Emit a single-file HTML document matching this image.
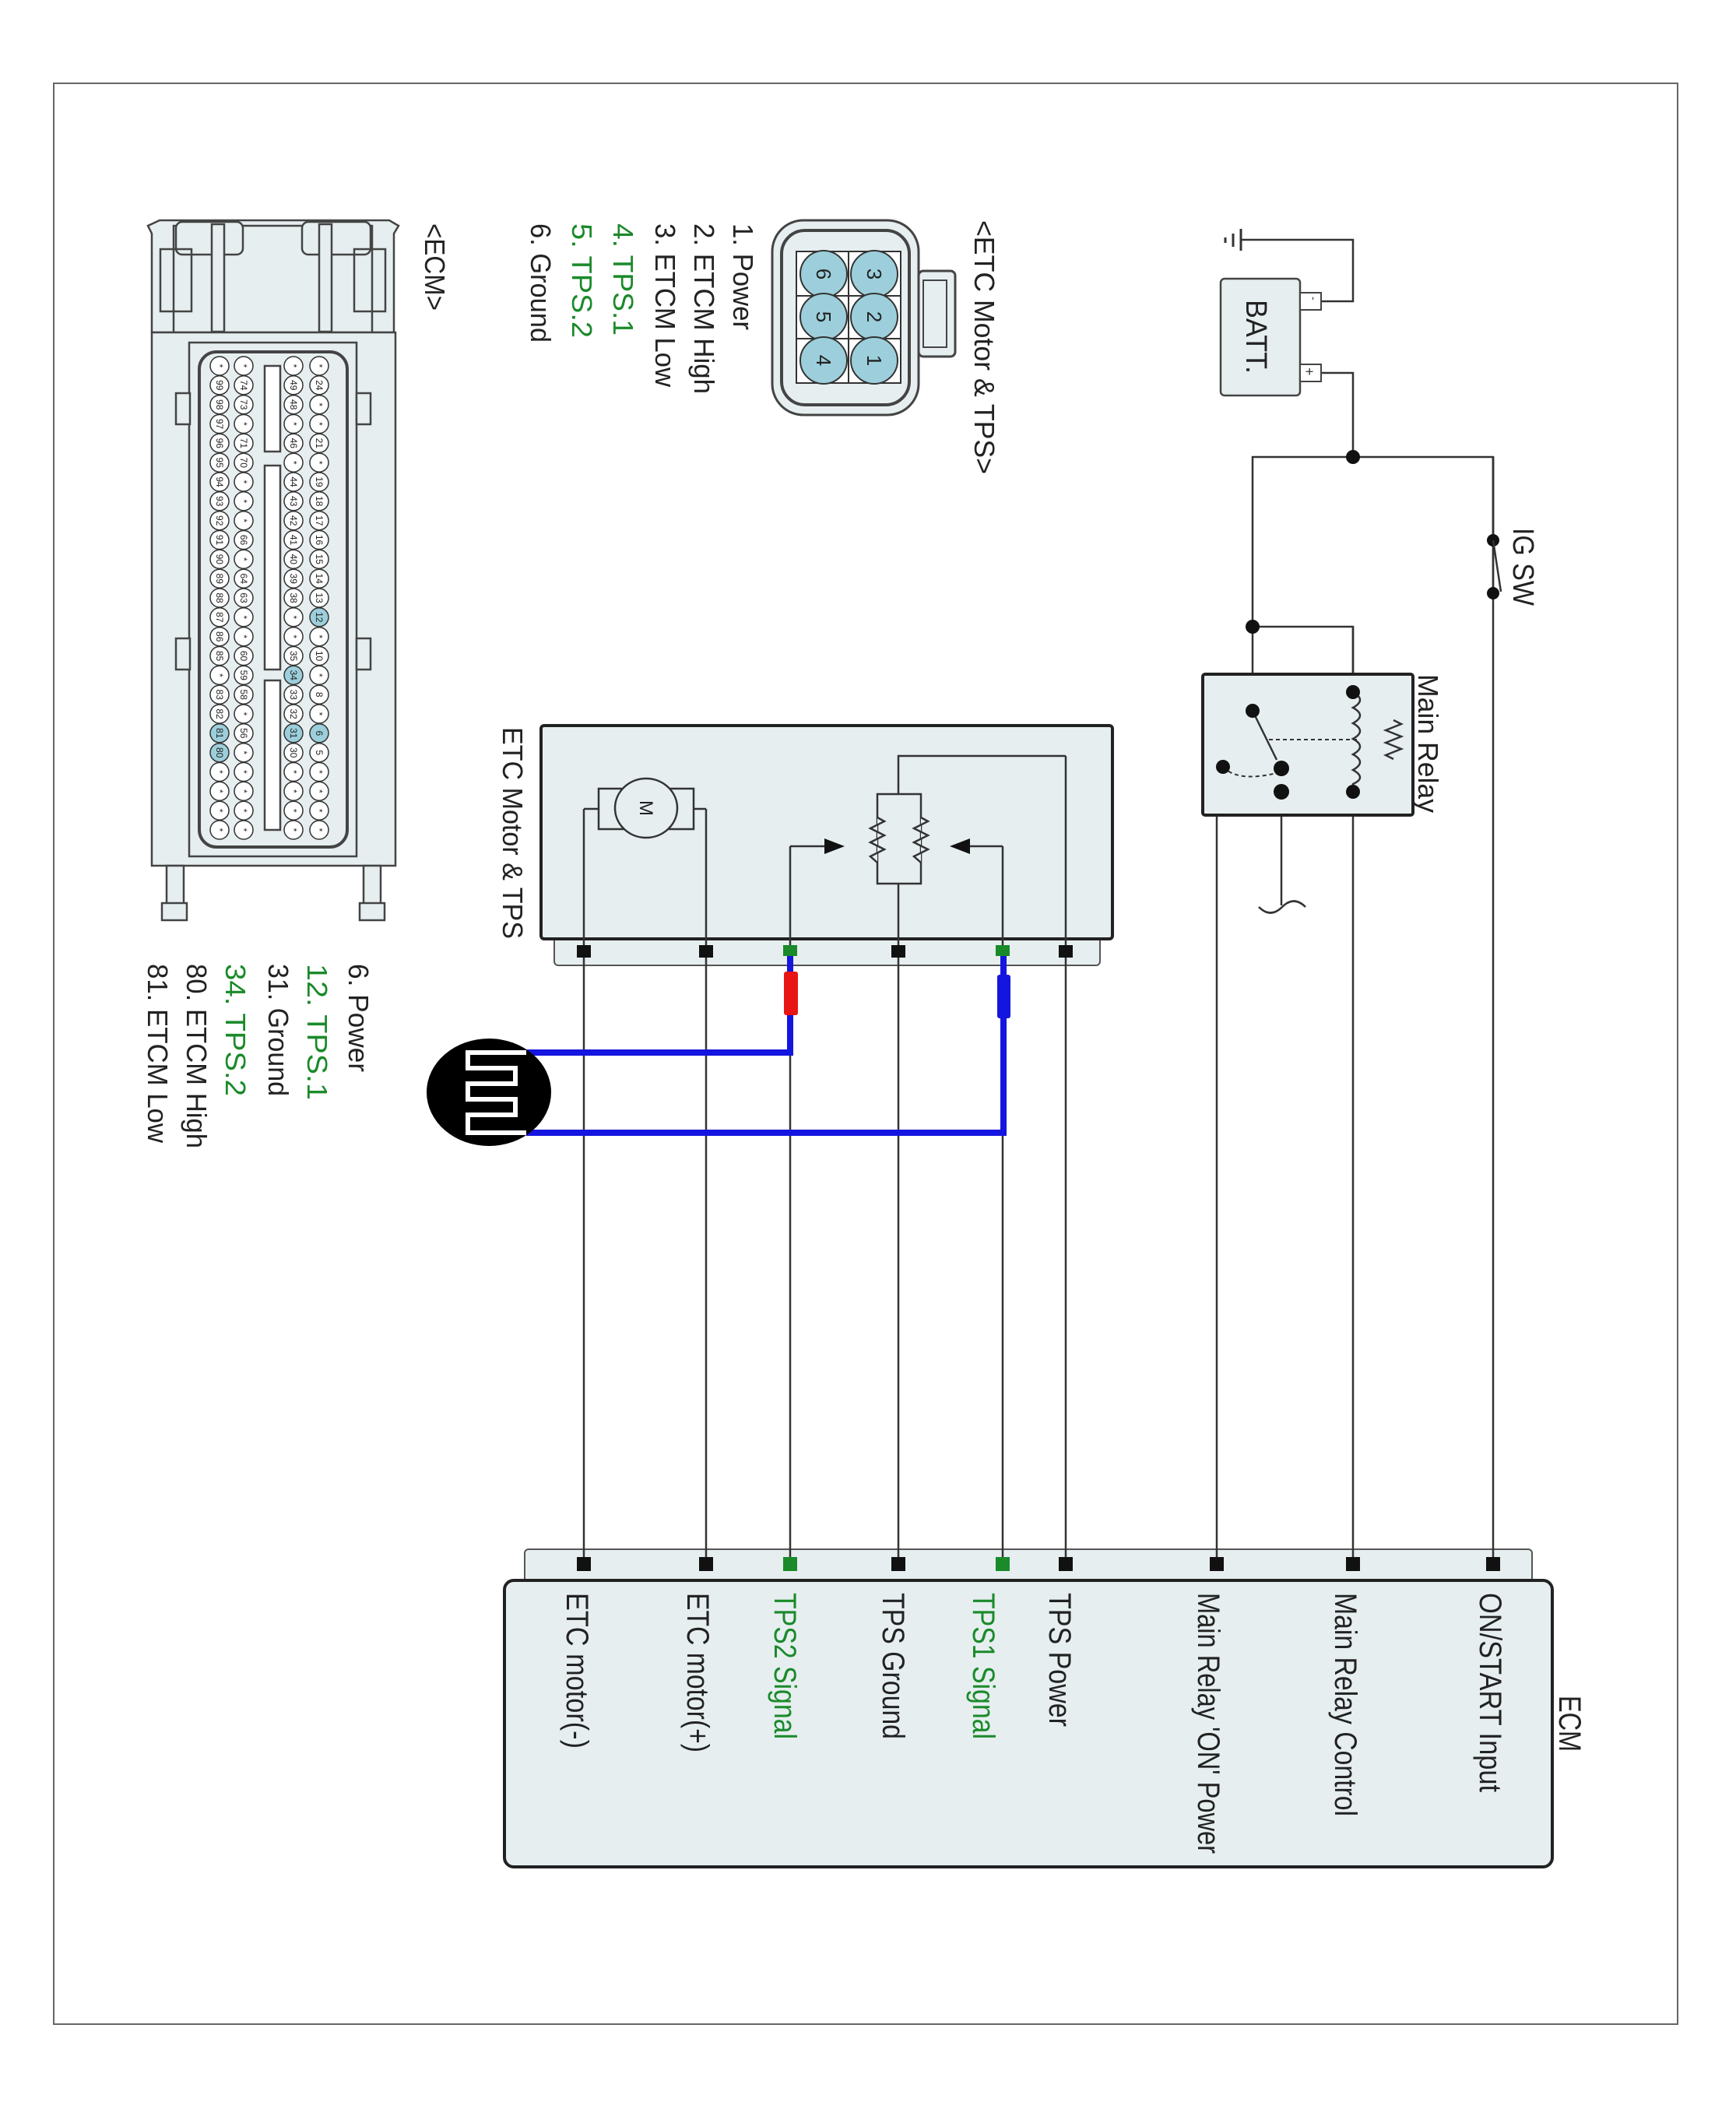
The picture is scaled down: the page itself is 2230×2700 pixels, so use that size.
<!DOCTYPE html>
<html><head><meta charset="utf-8"><style>
html,body{margin:0;padding:0;background:#fff}
svg{display:block}
text{font-family:"Liberation Sans",sans-serif}
</style></head><body>
<svg width="2230" height="2700" viewBox="0 0 2230 2700" xmlns="http://www.w3.org/2000/svg">
<rect x="69" y="107" width="2086" height="2493" fill="none" stroke="#666" stroke-width="2"/>

<rect x="674" y="1990" width="1294" height="44" rx="5" fill="#e6eef0" stroke="#555" stroke-width="2"/>
<rect x="648" y="2030" width="1346" height="368" rx="12" fill="#e6eef0" stroke="#222" stroke-width="4"/>

<rect x="712" y="1200" width="701" height="40" rx="5" fill="#e6eef0" stroke="#555" stroke-width="2"/>
<rect x="695" y="932" width="734" height="274" rx="4" fill="#e6eef0" stroke="#222" stroke-width="4"/>

<g stroke="#333" stroke-width="2.5" fill="none">
<line x1="750" y1="1039" x2="750" y2="2009"/>
<line x1="907" y1="1039" x2="907" y2="2009"/>
<line x1="1015" y1="1087" x2="1015" y2="2009"/>
<line x1="1154" y1="1135" x2="1154" y2="2009"/>
<line x1="1288" y1="1087" x2="1288" y2="2009"/>
<line x1="1369" y1="971" x2="1369" y2="2009"/>
<line x1="1563" y1="1017" x2="1563" y2="2009"/>
<line x1="1738" y1="805" x2="1738" y2="2009"/>
<line x1="1918" y1="587" x2="1918" y2="2009"/>
<polyline points="750,1039 769,1039"/>
<polyline points="907,1039 891,1039"/>
<polyline points="1154,1020 1154,971 1369,971"/>
<line x1="1015" y1="1087" x2="1060" y2="1087"/>
<line x1="1288" y1="1087" x2="1244" y2="1087"/>
<polyline points="1697,387 1738,387 1738,308 1594,308"/>
<polyline points="1697,479 1738,479 1738,587"/>
<polyline points="1609,913 1609,587 1918,587 1918,762"/>
<line x1="1918" y1="694" x2="1918" y2="587"/>
<polyline points="1609,805 1738,805 1738,889"/>
<polyline points="1738,889 1790,889 1790,925"/>
<polyline points="1790,975 1790,1017 1738,1017"/>
<polyline points="1563,1017 1646,1017"/>
<line x1="1646" y1="1017" x2="1646" y2="1163"/>
</g>
<g stroke="#333" stroke-width="3">
<line x1="1594" y1="294" x2="1594" y2="322"/>
<line x1="1584" y1="300" x2="1584" y2="317"/>
<line x1="1574" y1="305" x2="1574" y2="312"/>
</g>
<rect x="1568" y="358" width="102" height="150" rx="5" fill="#e6eef0" stroke="#444" stroke-width="2.5"/>
<rect x="1670" y="376" width="27" height="22" fill="#fff" stroke="#444" stroke-width="2"/>
<rect x="1670" y="468" width="27" height="22" fill="#fff" stroke="#444" stroke-width="2"/>
<text transform="translate(1683,381) rotate(90)" font-size="14" fill="#333">-</text>
<text transform="translate(1676,472) rotate(90)" font-size="18" fill="#333">+</text>
<text transform="translate(1601,385) rotate(90)" font-size="38" fill="#222" textLength="95" lengthAdjust="spacingAndGlyphs">BATT.</text>

<circle cx="1918" cy="694" r="8" fill="#111"/>
<circle cx="1918" cy="762" r="8" fill="#111"/>
<line x1="1918" y1="694" x2="1928" y2="760" stroke="#333" stroke-width="2.5"/>
<text transform="translate(1944,678) rotate(90)" font-size="38" fill="#222" textLength="100" lengthAdjust="spacingAndGlyphs">IG SW</text>

<rect x="1545" y="866" width="270" height="181" rx="3" fill="#e6eef0" stroke="#222" stroke-width="4"/>
<g stroke="#333" stroke-width="2.5" fill="none">
<line x1="1609" y1="913" x2="1640" y2="976"/>
<path d="M1738,889 q18,10 0,20 q18,10 0,20 q18,10 0,20 q18,10 0,20 q18,10 0,20 q18,10 0,18 V1017"/>
<polyline points="1790,925 1800,930 1780,938 1800,946 1780,954 1800,962 1780,970 1790,975"/>
<line x1="1630" y1="950" x2="1745" y2="950" stroke-dasharray="5,4" stroke-width="2"/>
<path d="M1571,985 Q1590,1005 1640,993" stroke-dasharray="5,4" stroke-width="2"/>
<path d="M1617,1165 q15,15 30,0 q15,-15 30,0"/>
</g>
<g fill="#111">
<circle cx="1609" cy="913" r="9"/><circle cx="1646" cy="987" r="10"/><circle cx="1646" cy="1017" r="10"/>
<circle cx="1571" cy="985" r="9"/><circle cx="1738" cy="889" r="9"/><circle cx="1738" cy="1017" r="9"/>
<circle cx="1738" cy="587" r="9"/><circle cx="1609" cy="805" r="9"/>
</g>
<text transform="translate(1822,866) rotate(90)" font-size="36" fill="#222" textLength="178" lengthAdjust="spacingAndGlyphs">Main Relay</text>

<rect x="769" y="1013" width="122" height="52" fill="none" stroke="#333" stroke-width="2.5"/>
<ellipse cx="830" cy="1038" rx="40" ry="38" fill="#e6eef0" stroke="#333" stroke-width="2.5"/>
<text transform="translate(822,1038) rotate(90)" font-size="24" text-anchor="middle" fill="#222">M</text>
<rect x="1127" y="1020" width="56" height="115" fill="none" stroke="#333" stroke-width="2.5"/>
<g stroke="#333" stroke-width="2.5" fill="#e6eef0">
<polyline points="1127,1050 1136,1055 1118,1064 1136,1073 1118,1082 1136,1091 1118,1100 1127,1108"/>
<polyline points="1183,1050 1192,1055 1174,1064 1192,1073 1174,1082 1192,1091 1174,1100 1183,1108"/>
</g>
<polygon points="1059,1077 1059,1097 1085,1087" fill="#111"/>
<polygon points="1246,1077 1246,1097 1220,1087" fill="#111"/>
<text transform="translate(646,934) rotate(90)" font-size="36" fill="#222" textLength="272" lengthAdjust="spacingAndGlyphs">ETC Motor &amp; TPS</text>

<g fill="#111">
<rect x="741" y="1214" width="18" height="16"/><rect x="898" y="1214" width="18" height="16"/>
<rect x="1145" y="1214" width="18" height="16"/><rect x="1360" y="1214" width="18" height="16"/>
<rect x="741" y="2000" width="18" height="18"/><rect x="898" y="2000" width="18" height="18"/>
<rect x="1145" y="2000" width="18" height="18"/><rect x="1360" y="2000" width="18" height="18"/>
<rect x="1554" y="2000" width="18" height="18"/><rect x="1729" y="2000" width="18" height="18"/>
<rect x="1909" y="2000" width="18" height="18"/>
</g>
<g fill="#1a8a2a">
<rect x="1006" y="1214" width="18" height="14"/><rect x="1279" y="1214" width="18" height="14"/>
<rect x="1006" y="2000" width="18" height="18"/><rect x="1279" y="2000" width="18" height="18"/>
</g>

<g stroke="#1515e0" stroke-width="8" fill="none">
<polyline points="1015,1228 1015,1352 676,1352"/>
<polyline points="1289,1228 1289,1455 676,1455"/>
</g>
<rect x="1007" y="1248" width="18" height="56" rx="3" fill="#e81515"/>
<rect x="1281" y="1252" width="17" height="56" rx="3" fill="#1515e0"/>
<ellipse cx="628" cy="1403" rx="80" ry="69" fill="#000"/>
<path d="M676,1352 H601 V1372 H662 V1392 H601 V1412 H662 V1432 H601 V1455 H676" stroke="#fff" stroke-width="6" fill="none"/>

<g font-size="40" fill="#222">
<text transform="translate(1901,2046) rotate(90)" textLength="256" lengthAdjust="spacingAndGlyphs">ON/START Input</text>
<text transform="translate(1715,2046) rotate(90)" textLength="287" lengthAdjust="spacingAndGlyphs">Main Relay Control</text>
<text transform="translate(1539,2046) rotate(90)" textLength="335" lengthAdjust="spacingAndGlyphs">Main Relay 'ON' Power</text>
<text transform="translate(1348,2046) rotate(90)" textLength="172" lengthAdjust="spacingAndGlyphs">TPS Power</text>
<text transform="translate(1250,2046) rotate(90)" textLength="188" lengthAdjust="spacingAndGlyphs" fill="#1a8a2a">TPS1 Signal</text>
<text transform="translate(1134,2046) rotate(90)" textLength="188" lengthAdjust="spacingAndGlyphs">TPS Ground</text>
<text transform="translate(995,2046) rotate(90)" textLength="188" lengthAdjust="spacingAndGlyphs" fill="#1a8a2a">TPS2 Signal</text>
<text transform="translate(883,2046) rotate(90)" textLength="205" lengthAdjust="spacingAndGlyphs">ETC motor(+)</text>
<text transform="translate(728,2046) rotate(90)" textLength="200" lengthAdjust="spacingAndGlyphs">ETC motor(-)</text>
<text transform="translate(2003,2178) rotate(90)" textLength="72" lengthAdjust="spacingAndGlyphs">ECM</text>
</g>

<g font-size="36" fill="#222">
<text transform="translate(1252,283) rotate(90)" textLength="326" lengthAdjust="spacingAndGlyphs">&lt;ETC Motor &amp; TPS&gt;</text>
<text transform="translate(942,287) rotate(90)" textLength="137" lengthAdjust="spacingAndGlyphs">1. Power</text>
<text transform="translate(892,287) rotate(90)" textLength="219" lengthAdjust="spacingAndGlyphs">2. ETCM High</text>
<text transform="translate(842,287) rotate(90)" textLength="210" lengthAdjust="spacingAndGlyphs">3. ETCM Low</text>
<text transform="translate(788,287) rotate(90)" textLength="144" lengthAdjust="spacingAndGlyphs" fill="#1a8a2a">4. TPS.1</text>
<text transform="translate(735,287) rotate(90)" textLength="147" lengthAdjust="spacingAndGlyphs" fill="#1a8a2a">5. TPS.2</text>
<text transform="translate(682,287) rotate(90)" textLength="153" lengthAdjust="spacingAndGlyphs">6. Ground</text>
<text transform="translate(546,287) rotate(90)" textLength="112" lengthAdjust="spacingAndGlyphs">&lt;ECM&gt;</text>
<text transform="translate(448,1238) rotate(90)" textLength="139" lengthAdjust="spacingAndGlyphs">6. Power</text>
<text transform="translate(395,1238) rotate(90)" textLength="175" lengthAdjust="spacingAndGlyphs" fill="#1a8a2a">12. TPS.1</text>
<text transform="translate(345,1238) rotate(90)" textLength="170" lengthAdjust="spacingAndGlyphs">31. Ground</text>
<text transform="translate(290,1238) rotate(90)" textLength="170" lengthAdjust="spacingAndGlyphs" fill="#1a8a2a">34. TPS.2</text>
<text transform="translate(240,1238) rotate(90)" textLength="237" lengthAdjust="spacingAndGlyphs">80. ETCM High</text>
<text transform="translate(190,1238) rotate(90)" textLength="230" lengthAdjust="spacingAndGlyphs">81. ETCM Low</text>
</g>

<rect x="1180" y="348" width="47" height="110" rx="6" fill="#e6eef0" stroke="#444" stroke-width="3"/>
<rect x="1186" y="360" width="30" height="86" fill="#e6eef0" stroke="#444" stroke-width="2"/>
<rect x="992" y="283" width="188" height="250" rx="40" fill="#e6eef0" stroke="#444" stroke-width="3"/>
<rect x="1004" y="296" width="164" height="224" rx="30" fill="#e6eef0" stroke="#444" stroke-width="4"/>
<rect x="1023" y="323" width="134" height="169" fill="#fff" stroke="#333" stroke-width="2"/>
<g stroke="#333" stroke-width="2"><line x1="1090" y1="323" x2="1090" y2="492"/><line x1="1023" y1="380" x2="1157" y2="380"/><line x1="1023" y1="435" x2="1157" y2="435"/></g>
<g fill="#9ccfdb" stroke="#333" stroke-width="2">
<circle cx="1123" cy="352" r="30"/><circle cx="1123" cy="407" r="30"/><circle cx="1123" cy="463" r="30"/>
<circle cx="1058" cy="352" r="30"/><circle cx="1058" cy="407" r="30"/><circle cx="1058" cy="463" r="30"/>
</g>
<g font-size="26" fill="#222" text-anchor="middle">
<text transform="translate(1114,352) rotate(90)">3</text><text transform="translate(1114,407) rotate(90)">2</text><text transform="translate(1114,463) rotate(90)">1</text>
<text transform="translate(1049,352) rotate(90)">6</text><text transform="translate(1049,407) rotate(90)">5</text><text transform="translate(1049,463) rotate(90)">4</text>
</g>

<g stroke="#444" stroke-width="2.5" fill="#e6eef0">
<path d="M195,427 V300 L190,290 L205,283 H500 L512,290 L506,300 V427 Z"/>
<rect x="223" y="290" width="255" height="137" fill="#e6eef0"/>
<rect x="226" y="285" width="86" height="42" rx="8"/>
<rect x="388" y="285" width="88" height="42" rx="8"/>
<rect x="206" y="320" width="40" height="80" fill="none"/>
<rect x="455" y="320" width="40" height="80" fill="none"/>
<rect x="272" y="288" width="16" height="138"/>
<rect x="410" y="288" width="16" height="138"/>
<rect x="195" y="427" width="313" height="685"/>
<rect x="243" y="440" width="215" height="660"/>
<rect x="256" y="452" width="190" height="636" rx="22" stroke-width="4"/>
<rect x="214" y="1112" width="22" height="60"/>
<rect x="467" y="1112" width="22" height="60"/>
<rect x="208" y="1160" width="32" height="22"/>
<rect x="462" y="1160" width="32" height="22"/>
<rect x="226" y="505" width="18" height="40"/>
<rect x="458" y="505" width="18" height="40"/>
<rect x="226" y="820" width="18" height="40"/>
<rect x="458" y="820" width="18" height="40"/>
<rect x="340" y="470" width="20" height="110" fill="#fff"/>
<rect x="340" y="598" width="20" height="262" fill="#fff"/>
<rect x="340" y="874" width="20" height="192" fill="#fff"/>
</g>
<g font-size="12" fill="#222" text-anchor="middle" stroke-width="1.5">
<g transform="translate(410,0)">
<g transform="translate(0,470) rotate(90)"><circle r="12" fill="#fff" stroke="#333"/><text y="4">*</text></g>
<g transform="translate(0,494.8) rotate(90)"><circle r="12" fill="#fff" stroke="#333"/><text y="4">24</text></g>
<g transform="translate(0,519.7) rotate(90)"><circle r="12" fill="#fff" stroke="#333"/><text y="4">*</text></g>
<g transform="translate(0,544.5) rotate(90)"><circle r="12" fill="#fff" stroke="#333"/><text y="4">*</text></g>
<g transform="translate(0,569.3) rotate(90)"><circle r="12" fill="#fff" stroke="#333"/><text y="4">21</text></g>
<g transform="translate(0,594.2) rotate(90)"><circle r="12" fill="#fff" stroke="#333"/><text y="4">*</text></g>
<g transform="translate(0,619) rotate(90)"><circle r="12" fill="#fff" stroke="#333"/><text y="4">19</text></g>
<g transform="translate(0,643.8) rotate(90)"><circle r="12" fill="#fff" stroke="#333"/><text y="4">18</text></g>
<g transform="translate(0,668.7) rotate(90)"><circle r="12" fill="#fff" stroke="#333"/><text y="4">17</text></g>
<g transform="translate(0,693.5) rotate(90)"><circle r="12" fill="#fff" stroke="#333"/><text y="4">16</text></g>
<g transform="translate(0,718.3) rotate(90)"><circle r="12" fill="#fff" stroke="#333"/><text y="4">15</text></g>
<g transform="translate(0,743.2) rotate(90)"><circle r="12" fill="#fff" stroke="#333"/><text y="4">14</text></g>
<g transform="translate(0,768) rotate(90)"><circle r="12" fill="#fff" stroke="#333"/><text y="4">13</text></g>
<g transform="translate(0,792.8) rotate(90)"><circle r="12" fill="#9ccfdb" stroke="#333"/><text y="4">12</text></g>
<g transform="translate(0,817.7) rotate(90)"><circle r="12" fill="#fff" stroke="#333"/><text y="4">*</text></g>
<g transform="translate(0,842.5) rotate(90)"><circle r="12" fill="#fff" stroke="#333"/><text y="4">10</text></g>
<g transform="translate(0,867.3) rotate(90)"><circle r="12" fill="#fff" stroke="#333"/><text y="4">*</text></g>
<g transform="translate(0,892.2) rotate(90)"><circle r="12" fill="#fff" stroke="#333"/><text y="4">8</text></g>
<g transform="translate(0,917) rotate(90)"><circle r="12" fill="#fff" stroke="#333"/><text y="4">*</text></g>
<g transform="translate(0,941.8) rotate(90)"><circle r="12" fill="#9ccfdb" stroke="#333"/><text y="4">6</text></g>
<g transform="translate(0,966.7) rotate(90)"><circle r="12" fill="#fff" stroke="#333"/><text y="4">5</text></g>
<g transform="translate(0,991.5) rotate(90)"><circle r="12" fill="#fff" stroke="#333"/><text y="4">*</text></g>
<g transform="translate(0,1016.3) rotate(90)"><circle r="12" fill="#fff" stroke="#333"/><text y="4">*</text></g>
<g transform="translate(0,1041.2) rotate(90)"><circle r="12" fill="#fff" stroke="#333"/><text y="4">*</text></g>
<g transform="translate(0,1066) rotate(90)"><circle r="12" fill="#fff" stroke="#333"/><text y="4">*</text></g>
</g>
<g transform="translate(377,0)">
<g transform="translate(0,470) rotate(90)"><circle r="12" fill="#fff" stroke="#333"/><text y="4">*</text></g>
<g transform="translate(0,494.8) rotate(90)"><circle r="12" fill="#fff" stroke="#333"/><text y="4">49</text></g>
<g transform="translate(0,519.7) rotate(90)"><circle r="12" fill="#fff" stroke="#333"/><text y="4">48</text></g>
<g transform="translate(0,544.5) rotate(90)"><circle r="12" fill="#fff" stroke="#333"/><text y="4">*</text></g>
<g transform="translate(0,569.3) rotate(90)"><circle r="12" fill="#fff" stroke="#333"/><text y="4">46</text></g>
<g transform="translate(0,594.2) rotate(90)"><circle r="12" fill="#fff" stroke="#333"/><text y="4">*</text></g>
<g transform="translate(0,619) rotate(90)"><circle r="12" fill="#fff" stroke="#333"/><text y="4">44</text></g>
<g transform="translate(0,643.8) rotate(90)"><circle r="12" fill="#fff" stroke="#333"/><text y="4">43</text></g>
<g transform="translate(0,668.7) rotate(90)"><circle r="12" fill="#fff" stroke="#333"/><text y="4">42</text></g>
<g transform="translate(0,693.5) rotate(90)"><circle r="12" fill="#fff" stroke="#333"/><text y="4">41</text></g>
<g transform="translate(0,718.3) rotate(90)"><circle r="12" fill="#fff" stroke="#333"/><text y="4">40</text></g>
<g transform="translate(0,743.2) rotate(90)"><circle r="12" fill="#fff" stroke="#333"/><text y="4">39</text></g>
<g transform="translate(0,768) rotate(90)"><circle r="12" fill="#fff" stroke="#333"/><text y="4">38</text></g>
<g transform="translate(0,792.8) rotate(90)"><circle r="12" fill="#fff" stroke="#333"/><text y="4">*</text></g>
<g transform="translate(0,817.7) rotate(90)"><circle r="12" fill="#fff" stroke="#333"/><text y="4">*</text></g>
<g transform="translate(0,842.5) rotate(90)"><circle r="12" fill="#fff" stroke="#333"/><text y="4">35</text></g>
<g transform="translate(0,867.3) rotate(90)"><circle r="12" fill="#9ccfdb" stroke="#333"/><text y="4">34</text></g>
<g transform="translate(0,892.2) rotate(90)"><circle r="12" fill="#fff" stroke="#333"/><text y="4">33</text></g>
<g transform="translate(0,917) rotate(90)"><circle r="12" fill="#fff" stroke="#333"/><text y="4">32</text></g>
<g transform="translate(0,941.8) rotate(90)"><circle r="12" fill="#9ccfdb" stroke="#333"/><text y="4">31</text></g>
<g transform="translate(0,966.7) rotate(90)"><circle r="12" fill="#fff" stroke="#333"/><text y="4">30</text></g>
<g transform="translate(0,991.5) rotate(90)"><circle r="12" fill="#fff" stroke="#333"/><text y="4">*</text></g>
<g transform="translate(0,1016.3) rotate(90)"><circle r="12" fill="#fff" stroke="#333"/><text y="4">*</text></g>
<g transform="translate(0,1041.2) rotate(90)"><circle r="12" fill="#fff" stroke="#333"/><text y="4">*</text></g>
<g transform="translate(0,1066) rotate(90)"><circle r="12" fill="#fff" stroke="#333"/><text y="4">*</text></g>
</g>
<g transform="translate(313,0)">
<g transform="translate(0,470) rotate(90)"><circle r="12" fill="#fff" stroke="#333"/><text y="4">*</text></g>
<g transform="translate(0,494.8) rotate(90)"><circle r="12" fill="#fff" stroke="#333"/><text y="4">74</text></g>
<g transform="translate(0,519.7) rotate(90)"><circle r="12" fill="#fff" stroke="#333"/><text y="4">73</text></g>
<g transform="translate(0,544.5) rotate(90)"><circle r="12" fill="#fff" stroke="#333"/><text y="4">*</text></g>
<g transform="translate(0,569.3) rotate(90)"><circle r="12" fill="#fff" stroke="#333"/><text y="4">71</text></g>
<g transform="translate(0,594.2) rotate(90)"><circle r="12" fill="#fff" stroke="#333"/><text y="4">70</text></g>
<g transform="translate(0,619) rotate(90)"><circle r="12" fill="#fff" stroke="#333"/><text y="4">*</text></g>
<g transform="translate(0,643.8) rotate(90)"><circle r="12" fill="#fff" stroke="#333"/><text y="4">*</text></g>
<g transform="translate(0,668.7) rotate(90)"><circle r="12" fill="#fff" stroke="#333"/><text y="4">*</text></g>
<g transform="translate(0,693.5) rotate(90)"><circle r="12" fill="#fff" stroke="#333"/><text y="4">66</text></g>
<g transform="translate(0,718.3) rotate(90)"><circle r="12" fill="#fff" stroke="#333"/><text y="4">*</text></g>
<g transform="translate(0,743.2) rotate(90)"><circle r="12" fill="#fff" stroke="#333"/><text y="4">64</text></g>
<g transform="translate(0,768) rotate(90)"><circle r="12" fill="#fff" stroke="#333"/><text y="4">63</text></g>
<g transform="translate(0,792.8) rotate(90)"><circle r="12" fill="#fff" stroke="#333"/><text y="4">*</text></g>
<g transform="translate(0,817.7) rotate(90)"><circle r="12" fill="#fff" stroke="#333"/><text y="4">*</text></g>
<g transform="translate(0,842.5) rotate(90)"><circle r="12" fill="#fff" stroke="#333"/><text y="4">60</text></g>
<g transform="translate(0,867.3) rotate(90)"><circle r="12" fill="#fff" stroke="#333"/><text y="4">59</text></g>
<g transform="translate(0,892.2) rotate(90)"><circle r="12" fill="#fff" stroke="#333"/><text y="4">58</text></g>
<g transform="translate(0,917) rotate(90)"><circle r="12" fill="#fff" stroke="#333"/><text y="4">*</text></g>
<g transform="translate(0,941.8) rotate(90)"><circle r="12" fill="#fff" stroke="#333"/><text y="4">56</text></g>
<g transform="translate(0,966.7) rotate(90)"><circle r="12" fill="#fff" stroke="#333"/><text y="4">*</text></g>
<g transform="translate(0,991.5) rotate(90)"><circle r="12" fill="#fff" stroke="#333"/><text y="4">*</text></g>
<g transform="translate(0,1016.3) rotate(90)"><circle r="12" fill="#fff" stroke="#333"/><text y="4">*</text></g>
<g transform="translate(0,1041.2) rotate(90)"><circle r="12" fill="#fff" stroke="#333"/><text y="4">*</text></g>
<g transform="translate(0,1066) rotate(90)"><circle r="12" fill="#fff" stroke="#333"/><text y="4">*</text></g>
</g>
<g transform="translate(282,0)">
<g transform="translate(0,470) rotate(90)"><circle r="12" fill="#fff" stroke="#333"/><text y="4">*</text></g>
<g transform="translate(0,494.8) rotate(90)"><circle r="12" fill="#fff" stroke="#333"/><text y="4">99</text></g>
<g transform="translate(0,519.7) rotate(90)"><circle r="12" fill="#fff" stroke="#333"/><text y="4">98</text></g>
<g transform="translate(0,544.5) rotate(90)"><circle r="12" fill="#fff" stroke="#333"/><text y="4">97</text></g>
<g transform="translate(0,569.3) rotate(90)"><circle r="12" fill="#fff" stroke="#333"/><text y="4">96</text></g>
<g transform="translate(0,594.2) rotate(90)"><circle r="12" fill="#fff" stroke="#333"/><text y="4">95</text></g>
<g transform="translate(0,619) rotate(90)"><circle r="12" fill="#fff" stroke="#333"/><text y="4">94</text></g>
<g transform="translate(0,643.8) rotate(90)"><circle r="12" fill="#fff" stroke="#333"/><text y="4">93</text></g>
<g transform="translate(0,668.7) rotate(90)"><circle r="12" fill="#fff" stroke="#333"/><text y="4">92</text></g>
<g transform="translate(0,693.5) rotate(90)"><circle r="12" fill="#fff" stroke="#333"/><text y="4">91</text></g>
<g transform="translate(0,718.3) rotate(90)"><circle r="12" fill="#fff" stroke="#333"/><text y="4">90</text></g>
<g transform="translate(0,743.2) rotate(90)"><circle r="12" fill="#fff" stroke="#333"/><text y="4">89</text></g>
<g transform="translate(0,768) rotate(90)"><circle r="12" fill="#fff" stroke="#333"/><text y="4">88</text></g>
<g transform="translate(0,792.8) rotate(90)"><circle r="12" fill="#fff" stroke="#333"/><text y="4">87</text></g>
<g transform="translate(0,817.7) rotate(90)"><circle r="12" fill="#fff" stroke="#333"/><text y="4">86</text></g>
<g transform="translate(0,842.5) rotate(90)"><circle r="12" fill="#fff" stroke="#333"/><text y="4">85</text></g>
<g transform="translate(0,867.3) rotate(90)"><circle r="12" fill="#fff" stroke="#333"/><text y="4">*</text></g>
<g transform="translate(0,892.2) rotate(90)"><circle r="12" fill="#fff" stroke="#333"/><text y="4">83</text></g>
<g transform="translate(0,917) rotate(90)"><circle r="12" fill="#fff" stroke="#333"/><text y="4">82</text></g>
<g transform="translate(0,941.8) rotate(90)"><circle r="12" fill="#9ccfdb" stroke="#333"/><text y="4">81</text></g>
<g transform="translate(0,966.7) rotate(90)"><circle r="12" fill="#9ccfdb" stroke="#333"/><text y="4">80</text></g>
<g transform="translate(0,991.5) rotate(90)"><circle r="12" fill="#fff" stroke="#333"/><text y="4">*</text></g>
<g transform="translate(0,1016.3) rotate(90)"><circle r="12" fill="#fff" stroke="#333"/><text y="4">*</text></g>
<g transform="translate(0,1041.2) rotate(90)"><circle r="12" fill="#fff" stroke="#333"/><text y="4">*</text></g>
<g transform="translate(0,1066) rotate(90)"><circle r="12" fill="#fff" stroke="#333"/><text y="4">*</text></g>
</g>
</g>
</svg>
</body></html>
